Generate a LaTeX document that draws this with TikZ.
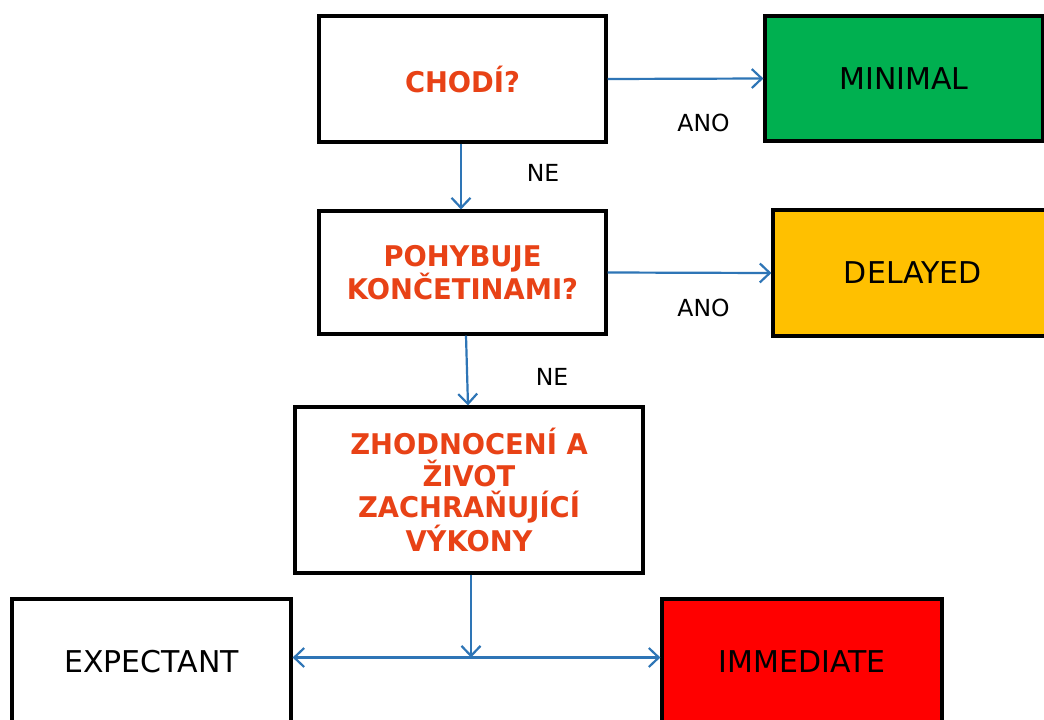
\documentclass[tikz,border=0pt]{standalone}
\usepackage{fontspec}
\setmainfont{DejaVu Sans}
\newfontfamily\qfont[FakeStretch=0.96]{DejaVu Sans}
\usetikzlibrary{arrows.meta}
\definecolor{qorange}{RGB}{232,66,22}
\definecolor{arrowblue}{RGB}{46,117,182}
\definecolor{mingreen}{RGB}{0,176,80}
\definecolor{delyellow}{RGB}{255,192,0}
\definecolor{immred}{RGB}{255,0,0}
\begin{document}
\begin{tikzpicture}[x=1pt,y=-1pt,
  box/.style={draw=black,line width=3.2pt,inner sep=0pt,align=center},
  qtext/.style={font=\qfont\bfseries\fontsize{28.5}{31.5}\selectfont,text=qorange},
  res/.style={font=\fontsize{30}{34}\selectfont,text=black},
  lbl/.style={font=\fontsize{23.5}{26}\selectfont,text=black},
  tip/.style={},
  arr/.style={draw=arrowblue,line width=2.2pt,-{Straight Barb[length=10pt,width=19pt,line width=2.2pt]}},
  darr/.style={draw=arrowblue,line width=2.2pt,{Straight Barb[length=10pt,width=19pt,line width=2.2pt]}-{Straight Barb[length=10pt,width=19pt,line width=2.2pt]}}]
\useasboundingbox (0,0) rectangle (1044,720);
\clip (0,0) rectangle (1044,720);
\fill[white] (0,0) rectangle (1044,720);

\node[box,qtext,fill=white,minimum width=287pt,minimum height=126pt] (chodi) at (462.5,79) {CHOD\'I?};
\node[box,res,fill=mingreen,minimum width=278pt,minimum height=125pt] (minimal) at (904,78.5) {MINIMAL};
\node[box,qtext,fill=white,minimum width=287pt,minimum height=123pt] (poh) at (462.5,272.5) {POHYBUJE\\KON\v{C}ETINAMI?};
\node[box,res,fill=delyellow,minimum width=280pt,minimum height=126pt] (delayed) at (913,273) {DELAYED};
\node[box,qtext,fill=white,minimum width=348pt,minimum height=166pt] (zh) at (469,490) {ZHODNOCEN\'I A\\\v{Z}IVOT\\ZACHRA\v{N}UJ\'IC\'I\\V\'YKONY};
\node[box,res,fill=white,minimum width=279pt,minimum height=125pt] (exp) at (151.5,661.5) {EXPECTANT};
\node[box,res,fill=immred,minimum width=280pt,minimum height=125pt] (imm) at (802,661.5) {IMMEDIATE};

\node[lbl] (ano1) at (703.5,122.5) {ANO};
\node[lbl] (ne1) at (543,173) {NE};
\node[lbl] (ano2) at (703.5,308) {ANO};
\node[lbl] (ne2) at (552,377) {NE};

\coordinate (j) at (471,657.5);

\draw[arr] (chodi.east) -- (minimal.west);
\draw[arr] (chodi.south -| 461,0) -- (poh.north -| 461,0);
\draw[arr] (poh.east) -- (delayed.west);
\draw[arr] (poh.south -| 466,0) -- (zh.north -| 468,0);
\draw[arr] (zh.south -| j) -- (j);
\draw[darr] (exp.east |- j) -- (imm.west |- j);
\end{tikzpicture}
\end{document}
